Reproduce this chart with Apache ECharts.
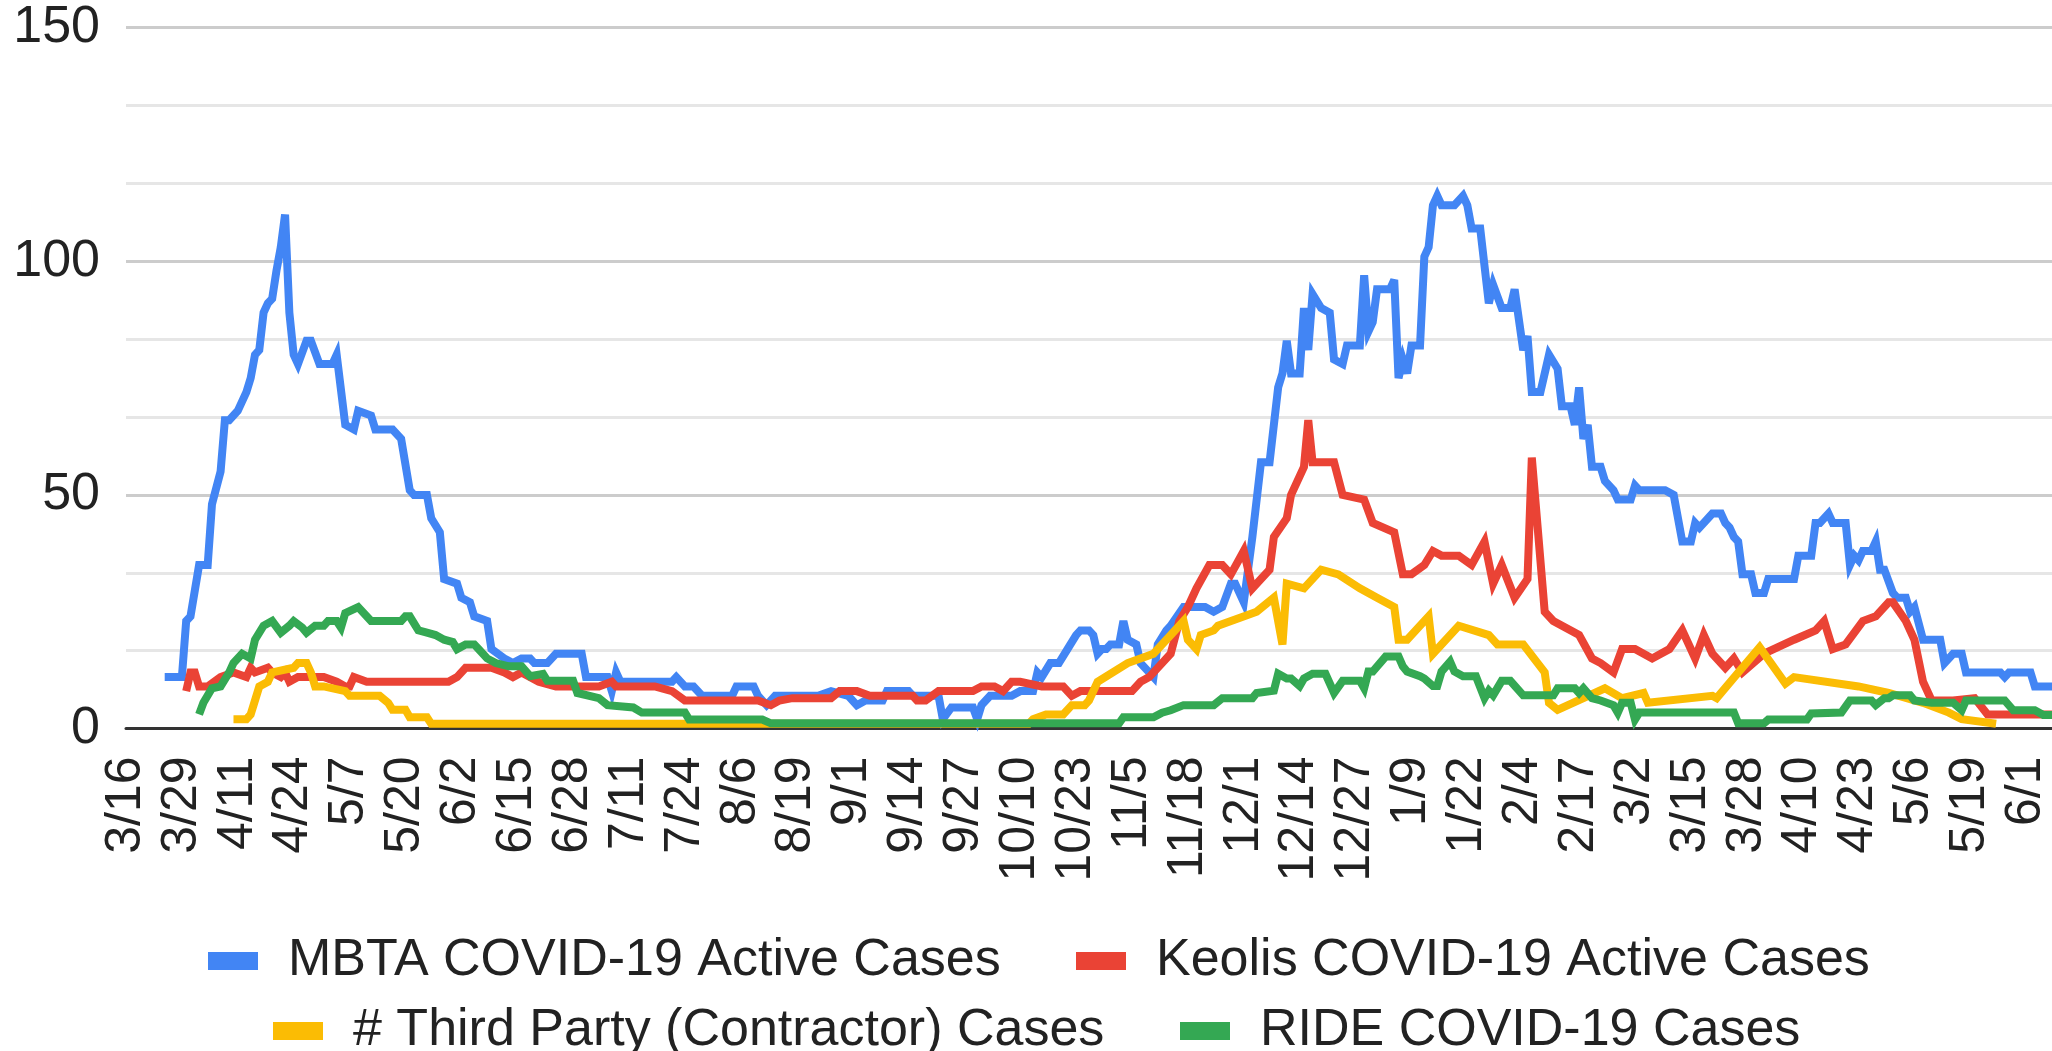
<!DOCTYPE html>
<html>
<head>
<meta charset="utf-8">
<script src="https://cdn.jsdelivr.net/npm/echarts@6/dist/echarts.min.js"></script>
<style>
html,body{margin:0;padding:0;background:#fff;}
#chart{width:2052px;height:1051px;}
</style>
</head>
<body>
<div id="chart"></div>
<script>
// x = days since 3/16/2020
const xTickLabels = ['3/16','3/29','4/11','4/24','5/7','5/20','6/2','6/15','6/28','7/11','7/24','8/6','8/19','9/1','9/14','9/27','10/10','10/23','11/5','11/18','12/1','12/14','12/27','1/9','1/22','2/4','2/17','3/2','3/15','3/28','4/10','4/23','5/6','5/19','6/1'];
const seriesNames = ['MBTA COVID-19 Active Cases','Keolis COVID-19 Active Cases','# Third Party (Contractor) Cases','RIDE COVID-19 Cases'];

const mbta = [[9,11],[12,11],[13,11],[14,23],[15,24],[17,35],[19,35],[20,48],[22,55],[23,66],[24,66],[26,68],[28,72],[29,75],[30,80],[31,81],[32,89],[33,91],[34,92],[35,98],[36,103],[37,110],[38,89],[39,80],[40,78],[42,83],[43,83],[45,78],[48,78],[49,80],[51,65],[53,64],[54,68],[57,67],[58,64],[62,64],[64,62],[66,51],[67,50],[70,50],[71,45],[73,42],[74,32],[77,31],[78,28],[80,27],[81,24],[84,23],[85,17],[88,15],[90,14],[92,15],[94,15],[95,14],[98,14],[100,16],[106,16],[107,11],[112,11],[113,8],[114,12],[115,10],[120,10],[127,10],[128,11],[130,9],[132,9],[134,7],[141,7],[142,9],[146,9],[147,7],[149,5],[151,7],[156,7],[159,7],[161,7],[164,8],[168,7],[170,5],[172,6],[176,6],[177,8],[182,8],[183,7],[189,7],[190,2],[192,4.5],[197,4.5],[198,2],[199,5],[201,7],[206,7],[208,8],[211,8],[212,12],[213,11],[215,14],[217,14],[219,17],[221,20],[222,21],[224,21],[225,20],[226,16],[227,17],[228,17],[229,18],[231,18],[232,23],[233,19],[235,18],[236,14],[239,11],[240,18],[242,21],[243,22],[246,26],[251,26],[253,25],[255,26],[257,31],[258,31],[260,27],[262,41],[264,57],[266,57],[268,73],[269,76],[270,83],[271,76],[273,76],[274,90],[275,81],[276,93],[278,90],[280,89],[281,79],[283,78],[284,82],[287,82],[288,97],[289,85],[290,87],[291,94],[294,94],[295,96],[296,75],[297,79],[298,76],[299,82],[301,82],[302,101],[303,103],[304,112],[305,114],[306,112],[309,112],[311,114],[312,112],[313,107],[315,107],[317,91],[318,95],[320,90],[322,90],[323,94],[325,81],[326,84],[327,72],[329,72],[331,80],[333,77],[334,69],[336,69],[337,65],[338,73],[339,62],[340,65],[341,56],[343,56],[344,53],[346,51],[347,49],[350,49],[351,52],[352,51],[358,51],[360,50],[362,40],[364,40],[365,44],[366,43],[368,45],[369,46],[371,46],[372,44],[373,43],[374,41],[375,40],[376,33],[378,33],[379,29],[381,29],[382,32],[388,32],[389,37],[392,37],[393,44],[394,44],[396,46],[397,44],[400,44],[401,35],[402,37],[403,36],[404,38],[406,38],[407,40],[408,34],[409,34],[411,29],[412,28],[414,28],[415,25],[416,26],[418,19],[422,19],[423,14],[425,16],[427,16],[428,12],[436,12],[437,11],[438,12],[443,12],[444,9],[448,9]];

const keolis = [[14,8],[15,12],[16,12],[17,9],[19,9],[22,11],[25,12],[28,11],[29,13],[30,12],[33,13],[34,12],[36,11],[37,12],[38,10],[40,11],[43,11],[46,11],[49,10],[51,9],[52,9],[53,11],[56,10],[75,10],[77,11],[79,13],[85,13],[88,12],[90,11],[92,12],[96,10],[100,9],[110,9],[113,10],[114,9],[123,9],[127,8],[130,6],[147,6],[150,5],[152,6],[155,6.5],[164,6.5],[166,8],[170,8],[173,7],[183,7],[184,6],[186,6],[189,8],[197,8],[199,9],[202,9],[204,8],[206,10],[208,10],[213,9],[218,9],[220,7],[222,8],[234,8],[236,10],[238,11],[241,14],[243,16],[245,23],[247,26],[249,30],[252,35],[255,35],[257,33],[260,38],[262,30],[264,32],[266,34],[267,41],[270,45],[271,50],[274,56],[275,66],[276,57],[281,57],[283,50],[288,49],[290,44],[295,42],[297,33],[299,33],[302,35],[304,38],[306,37],[310,37],[313,35],[316,40],[318,31],[320,35],[323,28],[326,32],[327,58],[330,25],[332,23],[338,20],[341,15],[343,14],[346,12],[348,17],[351,17],[355,15],[359,17],[362,21],[365,15],[367,20],[369,16],[372,13],[374,15],[376,12],[381,16],[388,19],[393,21],[395,23],[397,17],[400,18],[404,23],[407,24],[410,27],[411,27],[414,23],[416,19],[418,10],[420,6],[425,6],[430,6.5],[433,3],[448,3]];

const thirdParty = [[25,2],[28,2],[29,3],[30,6],[31,9],[33,10],[34,12],[39,13],[40,14],[42,14],[43,12],[44,9],[46,9],[51,8],[52,7],[59,7],[61,5.5],[62,4],[65,4],[66,2.4],[70,2.4],[71,1],[210,1],[211,2],[214,3],[218,3],[220,5],[223,5],[224,6],[226,10],[233,14],[239,16],[242,19],[246,23],[247,19],[249,17],[250,20],[253,21],[254,22],[263,25],[267,28],[269,18],[270,31],[274,30],[278,34],[282,33],[287,30],[291,28],[295,26],[296,19],[298,19],[303,24],[304,16],[310,22],[317,20],[319,18],[325,18],[330,12],[331,5.5],[333,4],[344,8.6],[348,6.5],[353,7.6],[354,5.5],[369,7],[370,6.5],[380,17.4],[386,9.6],[388,11],[403,9],[410,7.6],[418,5.5],[424,3.4],[427,2],[435,1]];

const ride = [[17,3],[18,5.5],[20,8.6],[22,9],[24,12],[25,14],[27,16],[29,15],[30,19],[32,22],[34,23],[36,20.5],[38,22],[39,23],[41,21.6],[42,20.5],[44,22],[46,22],[47,23],[49,23],[50,21.6],[51,24.7],[54,26],[57,23],[64,23],[65,24],[66,24],[68,21],[70,20.5],[72,20],[74,19],[76,18.5],[77,17],[79,18],[81,18],[82,17],[84,15],[86,14],[89,13.3],[92,13.3],[94,11.2],[97,11.7],[98,10.2],[104,10.2],[105,7.6],[110,6.5],[112,5],[118,4.5],[120,3.4],[130,3.4],[131,1.9],[148,1.9],[150,1.1],[231,1.1],[232,2.4],[239,2.4],[241,3.4],[243,3.9],[246,5],[253,5],[255,6.5],[262,6.5],[263,7.6],[267,8.1],[268,11.7],[270,10.7],[271,10.7],[273,9.1],[274,10.7],[276,11.7],[279,11.7],[281,7.6],[283,10.2],[287,10.2],[288,8.6],[289,12.2],[290,12.2],[293,15.4],[296,15.4],[297,13.3],[298,12.2],[301,11.2],[302,10.7],[304,9.1],[305,9.1],[306,12.2],[308,14.3],[309,12.2],[311,11.2],[314,11.2],[316,6.5],[317,8.1],[318,7.1],[320,10.2],[322,10.2],[325,7.1],[332,7.1],[333,8.6],[337,8.6],[338,7.6],[339,8.6],[341,6.5],[343,6],[346,5],[347,3.4],[348,5.5],[350,5.5],[351,1.9],[352,3.4],[374,3.4],[375,1.1],[381,1.1],[382,1.9],[391,1.9],[392,3.2],[399,3.4],[401,6],[406,6],[407,5],[409,6.5],[410,6.5],[411,7.1],[415,7.1],[416,6],[420,5.5],[425,5.5],[427,3.9],[428,6],[437,6],[439,3.9],[444,3.9],[446,2.9],[448,2.9]];

const colors = ['#4285F4','#EA4335','#FBBC04','#34A853'];
const FONT = "'Liberation Sans', Arial, sans-serif";

const chart = echarts.init(document.getElementById('chart'));
function mkLine(i, data) {
  return {
    name: seriesNames[i], type: 'line', data: data, showSymbol: false, symbol: 'none',
    lineStyle: { color: colors[i], width: 8, join: 'miter', miterLimit: 4 },
    itemStyle: { color: colors[i] },
    animation: false, z: 2 + i
  };
}
function mkLegend(i, left, top) {
  return {
    data: [seriesNames[i]], left: left, top: top, orient: 'horizontal',
    itemWidth: 50, itemHeight: 18, icon: 'rect', selectedMode: false,
    textStyle: { fontFamily: FONT, fontSize: 52, color: '#222', lineHeight: 52, padding: [0,0,0,25] }
  };
}
chart.setOption({
  animation: false,
  backgroundColor: '#fff',
  color: colors,
  grid: { left: 126, right: 0, top: 27.7, bottom: 322.5, containLabel: false },
  xAxis: {
    type: 'value', min: 0, max: 448, interval: 13,
    axisLine: { show: true, onZero: false, lineStyle: { color: '#333', width: 3 } },
    axisTick: { show: false },
    splitLine: { show: false },
    axisLabel: {
      rotate: 90, margin: 28, color: '#222', fontFamily: FONT, fontSize: 50,
      showMinLabel: true, showMaxLabel: false,
      formatter: function (v) { return (v % 13 === 0 && xTickLabels[v / 13]) ? xTickLabels[v / 13] : ''; }
    }
  },
  yAxis: {
    type: 'value', min: 0, max: 150, interval: 50,
    axisLine: { show: false }, axisTick: { show: false },
    axisLabel: { margin: 26, color: '#222', fontFamily: FONT, fontSize: 52 },
    splitLine: { show: true, lineStyle: { color: '#cccccc', width: 3 } },
    minorTick: { show: false, splitNumber: 3 },
    minorSplitLine: { show: true, lineStyle: { color: '#e6e6e6', width: 3 } }
  },
  legend: [
    mkLegend(0, 203, 930),
    mkLegend(1, 1071, 930),
    mkLegend(2, 268, 1000),
    mkLegend(3, 1175, 1000)
  ],
  series: [mkLine(0, mbta), mkLine(1, keolis), mkLine(2, thirdParty), mkLine(3, ride)]
});
</script>
</body>
</html>
